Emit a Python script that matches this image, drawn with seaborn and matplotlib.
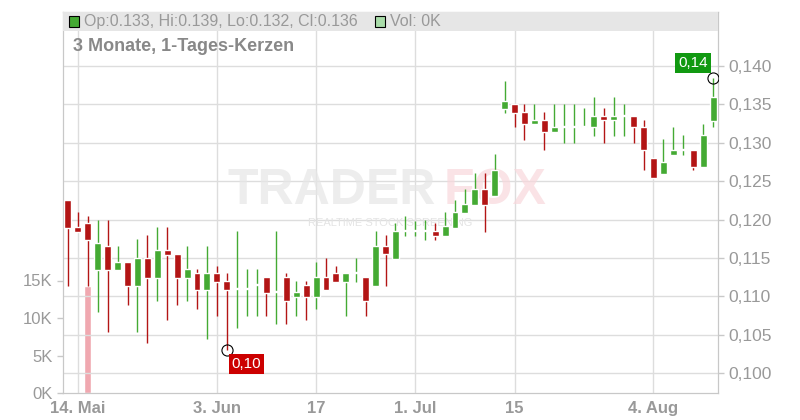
import numpy as np
import pandas as pd
import matplotlib
matplotlib.use("Agg")
import matplotlib.pyplot as plt
import seaborn as sns

opens  = [.1225,.1190,.1196,.1134,.1165,.1134,.1145,.1113,.1150,.1124,.1160,.1155,.1124,.1130,.1108,.1130,
          .1120,.1109,.1109,.1115,.1125,.1105,.1125,.1099,.1115,.1099,.1125,.1130,.1119,.1130,.1125,.1113,.1165,
          .1149,.1185,.1185,.1185,.1185,.1179,.1189,.1209,.1219,.1240,.1230,.1344,.1350,.1340,.1324,.1330,.1314,
          .1320,.1320,.1320,.1320,.1335,.1329,.1335,.1335,.1321,.1280,.1259,.1284,.1290,.1290,.1269,.1328]
closes = [.1189,.1184,.1173,.1170,.1134,.1145,.1113,.1150,.1124,.1160,.1154,.1124,.1135,.1108,.1130,.1119,
          .1108,.1109,.1109,.1115,.1104,.1105,.1094,.1105,.1099,.1125,.1108,.1119,.1130,.1130,.1094,.1165,.1155,
          .1185,.1185,.1185,.1185,.1179,.1191,.1210,.1220,.1240,.1219,.1264,.1354,.1339,.1324,.1330,.1314,.1321,
          .1320,.1320,.1320,.1335,.1329,.1335,.1335,.1320,.1290,.1254,.1275,.1290,.1290,.1269,.1310,.1359]
highs  = [.1225,.1210,.1205,.1199,.1199,.1165,.1145,.1175,.1180,.1190,.1190,.1155,.1165,.1135,.1165,.1139,
          .1130,.1185,.1135,.1135,.1125,.1185,.1130,.1120,.1120,.1145,.1150,.1139,.1130,.1150,.1125,.1185,.1180,
          .1195,.1205,.1198,.1199,.1195,.1210,.1225,.1240,.1261,.1261,.1285,.1380,.1350,.1350,.1350,.1340,.1350,
          .1350,.1350,.1345,.1360,.1345,.1360,.1350,.1335,.1330,.1280,.1305,.1320,.1310,.1290,.1324,.1384]
lows   = [.1113,.1184,.1113,.1079,.1054,.1134,.1089,.1054,.1039,.1094,.1069,.1089,.1094,.1083,.1044,.1074,
          .1030,.1059,.1074,.1074,.1074,.1064,.1064,.1074,.1069,.1083,.1108,.1119,.1074,.1119,.1074,.1113,.1113,
          .1149,.1179,.1179,.1173,.1173,.1179,.1189,.1209,.1219,.1184,.1230,.1339,.1320,.1304,.1324,.1290,.1314,
          .1300,.1300,.1320,.1309,.1300,.1309,.1309,.1300,.1264,.1254,.1259,.1284,.1284,.1264,.1269,.1320]
volumes = [0, 0, 14300] + [0] * 63
tick_idx = [1, 15, 25, 35, 45, 59]
tick_labels = ["14. Mai", "3. Jun", "17", "1. Jul", "15", "4. Aug"]
price_ticks = [0.100, 0.105, 0.110, 0.115, 0.120, 0.125, 0.130, 0.135, 0.140]
vol_ticks = [0, 5000, 10000, 15000]
vol_labels = ["0K", "5K", "10K", "15K"]

df = pd.DataFrame({"o": opens, "h": highs, "l": lows, "c": closes, "v": volumes})
df["i"] = np.arange(len(df))

sns.set_style("white")
plt.rcParams["font.family"] = ["Liberation Sans", "DejaVu Sans"]

W, H = 800, 420
fig = plt.figure(figsize=(8, 4.2), dpi=100)
L, R, B, T = 63, 718, 393, 12
rect = [L / W, 1 - B / H, (R - L) / W, (B - T) / H]
axv = fig.add_axes(rect)
ax = axv.twinx()

GREEN, RED, GRID, TXT = "#44aa33", "#b31515", "#dddddd", "#999999"

axv.bar(df["i"], df["v"], width=0.7, color="#f0a8b0", zorder=2)
axv.set_ylim(0, 381 / 37.5 * 5000)
axv.set_yticks(vol_ticks)
axv.set_yticklabels(vol_labels)
axv.set_xlim(-0.5, 65.5)

ylo = 0.140 - (B - 66) * 0.005 / 38.375
yhi = 0.140 + (66 - T) * 0.005 / 38.375
ax.set_ylim(ylo, yhi)
ax.set_yticks(price_ticks)
ax.set_yticklabels([f"{t:.3f}".replace(".", ",") for t in price_ticks])
for t in price_ticks:
    ax.axhline(t, color=GRID, lw=1, zorder=0)
for t in tick_idx:
    ax.axvline(t, color=GRID, lw=1, zorder=0)

up = df["c"] >= df["o"]
for sub, col in ((df[up], GREEN), (df[~up], RED)):
    ax.vlines(sub["i"], sub["l"], sub["h"], color=col, lw=1, zorder=3)
    bot = np.minimum(sub["o"], sub["c"])
    hgt = np.maximum(np.abs(sub["c"] - sub["o"]), 0.00013)
    ax.bar(sub["i"], hgt, bottom=bot, width=0.7, color=col, zorder=4)

axv.set_xticks(tick_idx)
axv.set_xticklabels(tick_labels)
for a in (ax, axv):
    for s in a.spines.values():
        s.set_color("#c8c8c8")
    a.tick_params(colors=TXT, labelsize=12, length=4, width=1, color="#c8c8c8")
axv.tick_params(axis="x", labelsize=12, pad=2)
for lab in axv.get_xticklabels():
    lab.set_fontweight("bold")
ax.tick_params(axis="y", labelsize=12.5)
ax.grid(False); axv.grid(False)

ax.add_patch(plt.Rectangle((0, 1 - 19 / 381), 1, 19 / 381, transform=ax.transAxes,
                           facecolor="#e6e6e6", edgecolor="none", zorder=5))
ax.add_patch(plt.Rectangle((6 / 655, 1 - 15 / 381), 10 / 655, 11 / 381, transform=ax.transAxes,
                           facecolor=GREEN, edgecolor="black", lw=0.8, zorder=6))
ax.text(21 / 655, 1 - 10 / 381, "Op:0.133, Hi:0.139, Lo:0.132, Cl:0.136", transform=ax.transAxes,
        va="center", ha="left", fontsize=11.5, color=TXT, zorder=6)
ax.add_patch(plt.Rectangle((312 / 655, 1 - 15 / 381), 10 / 655, 11 / 381, transform=ax.transAxes,
                           facecolor="#aaddaa", edgecolor="black", lw=0.8, zorder=6))
ax.text(327 / 655, 1 - 10 / 381, "Vol: 0K", transform=ax.transAxes,
        va="center", ha="left", fontsize=11.5, color=TXT, zorder=6)
ax.text(10 / 655, 1 - 35 / 381, "3 Monate, 1-Tages-Kerzen", transform=ax.transAxes,
        va="center", ha="left", fontsize=13, fontweight="bold", color="#888888", zorder=6)

ax.text(0.41, 0.53, "TRADER", transform=ax.transAxes, ha="center", va="center",
        fontsize=36, fontweight="bold", color="#e6e6e6", alpha=0.7, zorder=1)
ax.text(0.66, 0.53, "FOX", transform=ax.transAxes, ha="center", va="center",
        fontsize=36, fontweight="bold", color="#f8d8dc", alpha=0.7, zorder=1)
ax.text(0.5, 0.445, "REALTIME STOCK SCREENING", transform=ax.transAxes, ha="center", va="center",
        fontsize=8, color="#e4e4e4", zorder=1)

imin = int(df["l"].idxmin()); imax = int(df["h"].idxmax())
ax.plot(imin, df["l"][imin], "o", mfc="none", mec="black", ms=8, mew=0.8, zorder=7)
ax.text(imin + 0.5, df["l"][imin] - 0.0009, f"{df['l'][imin]:.2f}".replace(".", ","), ha="left", va="top",
        fontsize=11, color="white", bbox=dict(boxstyle="square,pad=0.2", fc="#cc0000", ec="none"), zorder=7)
ax.plot(imax, df["h"][imax], "o", mfc="none", mec="black", ms=8, mew=0.8, zorder=7)
ax.text(imax - 0.5, df["h"][imax] + 0.0011, f"{df['h'][imax]:.2f}".replace(".", ","), ha="right", va="bottom",
        fontsize=11, color="white", bbox=dict(boxstyle="square,pad=0.2", fc="#119911", ec="none"), zorder=7)

fig.savefig("out.png", dpi=100)
